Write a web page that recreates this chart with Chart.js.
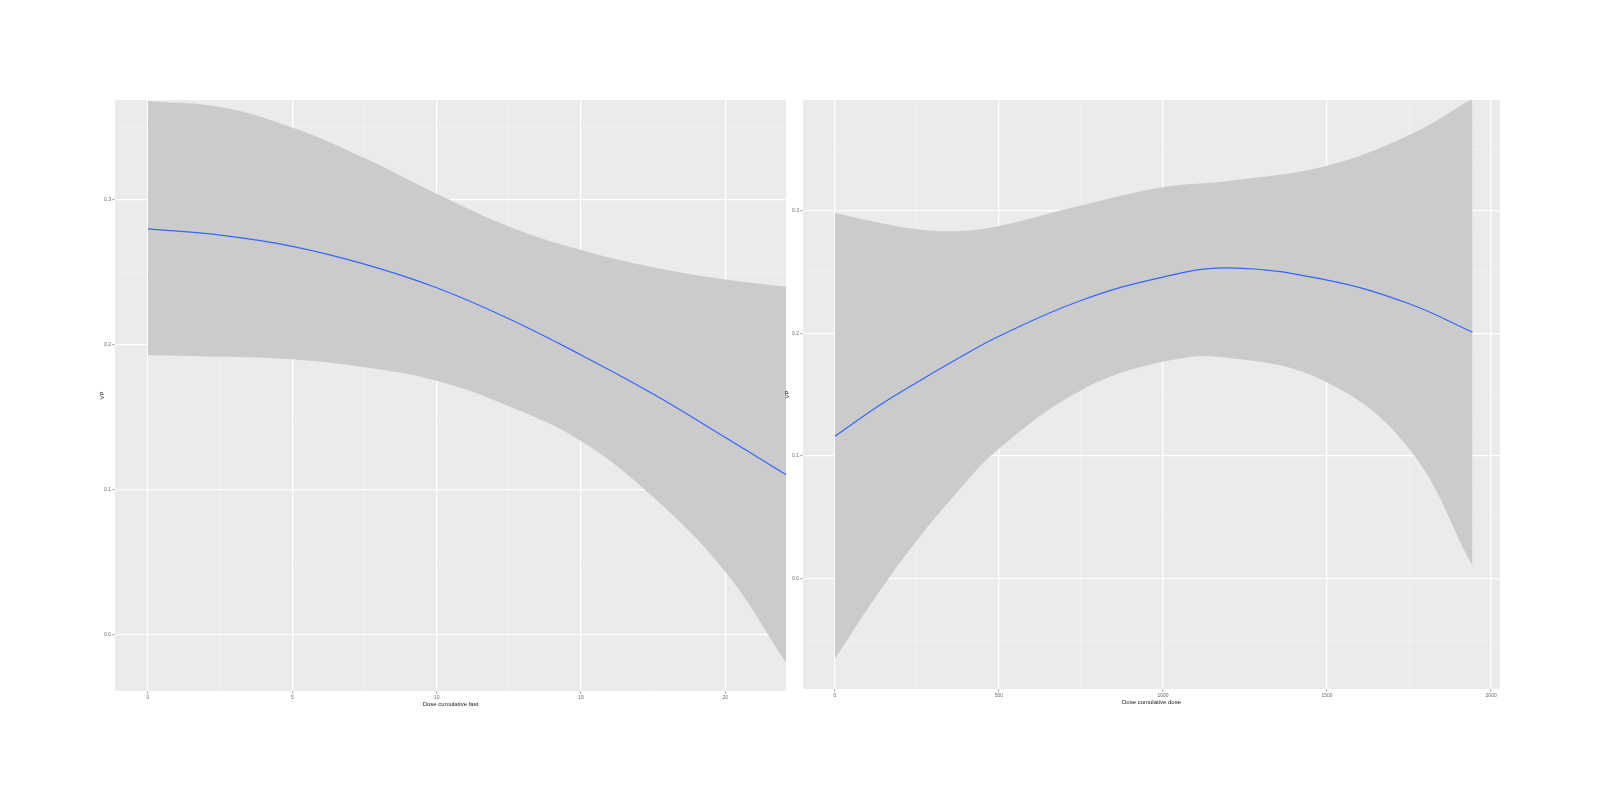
<!DOCTYPE html>
<html>
<head>
<meta charset="utf-8">
<script src="https://cdn.jsdelivr.net/npm/chart.js@4.4.0/dist/chart.umd.min.js"></script>
<style>
  body { margin: 0; background: #fff; width: 1600px; height: 804px; position: relative; overflow: hidden; }
  canvas { position: absolute; }
  #left { left: 90px; top: 90px; }
  #right { left: 770px; top: 90px; }
</style>
</head>
<body>
<canvas id="left" width="696" height="630"></canvas>
<canvas id="right" width="750" height="630"></canvas>
<script>
// left panel data
const leftX = [0, 2.5, 5, 7.5, 10, 12.5, 15, 17.5, 20, 22.1];
const leftFit = [0.280, 0.2757, 0.268, 0.2557, 0.2394, 0.218, 0.193, 0.166, 0.136, 0.1103];
const leftUpper = [0.3684, 0.3642, 0.350, 0.3289, 0.3042, 0.2817, 0.2654, 0.2535, 0.245, 0.240];
const leftLower = [0.1928, 0.1918, 0.190, 0.1845, 0.1752, 0.1576, 0.1336, 0.0948, 0.0433, -0.0194];
const leftXTicks = [0, 5, 10, 15, 20];
const leftYTicks = [0.0, 0.1, 0.2, 0.3];

// right panel data
const rightX = [0, 125, 250, 375, 500, 750, 1000, 1200, 1500, 1750, 1943];
const rightFit = [0.1161, 0.1394, 0.160, 0.1794, 0.1976, 0.2267, 0.2458, 0.2532, 0.2433, 0.2241, 0.2009];
const rightUpper = [0.298, 0.2907, 0.2848, 0.2832, 0.2873, 0.304, 0.3189, 0.324, 0.3364, 0.3614, 0.391];
const rightLower = [-0.0653, -0.0146, 0.0312, 0.0712, 0.106, 0.1535, 0.1768, 0.180, 0.160, 0.106, 0.0104];
const rightXTicks = [0, 500, 1000, 1500, 2000];
const rightYTicks = [0.0, 0.1, 0.2, 0.3];

const yTitle = 'VP';

// panel background like ggplot
const panelBg = {
    id: 'panelBg',
    beforeDraw(chart) {
        const a = chart.chartArea;
        const ctx = chart.ctx;
        ctx.save();
        ctx.fillStyle = '#EBEBEB';
        ctx.fillRect(a.left, a.top, a.right - a.left, a.bottom - a.top);
        ctx.restore();
    }
};

function withMinor(major, lo, hi){
    const step = major[1] - major[0];
    const all = [];
    const start = major[0] - step * Math.ceil((major[0] - lo) / step);
    for (let v = start - step / 2; v <= hi + 1e-9; v += step / 2) {
        if (v >= lo - 1e-9) all.push(+v.toFixed(6));
    }
    return all;
}

function isMajor(v, major){
    return major.some(m => Math.abs(m - v) < 1e-6);
}

function axis(major, lo, hi, size, fmt, title, isX){
    return {
        type: 'linear',
        min: lo,
        max: hi,
        afterBuildTicks: s => {
            s.ticks = withMinor(major, lo, hi).map(v => ({ value: v }));
        },
        afterFit: s => {
            if (isX) s.height = size; else s.width = size;
        },
        border: { display: false },
        grid: {
            color: c => isMajor(c.tick.value, major) ? '#FFFFFF' : '#F3F3F3',
            lineWidth: c => isMajor(c.tick.value, major) ? 1.3 : 0.6,
            tickColor: c => isMajor(c.tick.value, major) ? '#8A8A8A' : 'transparent',
            tickWidth: 0.7,
            tickLength: 3
        },
        ticks: {
            autoSkip: false,
            maxRotation: 0,
            padding: 1,
            color: '#6A6A6A',
            font: { family: 'Liberation Sans', size: 5 },
            callback: v => isMajor(v, major) ? fmt(v) : ''
        },
        title: {
            display: true,
            text: title,
            color: '#222',
            padding: isX ? { top: 1, bottom: 0 } : { top: 0, bottom: 1 },
            font: { family: 'Liberation Sans', size: 6 }
        }
    };
}

function drawPanel(id, xs, fit, upper, lower, xTicks, yTicks, xr, yr, yW, xH, pad, xTitle){
    new Chart(document.getElementById(id), {
        type: 'line',
        data: {
            datasets: [{
                data: xs.map((x, i) => ({ x: x, y: fit[i] })),
                borderColor: '#3366FF',
                borderWidth: 1.2,
                pointRadius: 0,
                tension: 0.4,
                fill: false
            }, {
                data: xs.map((x, i) => ({ x: x, y: upper[i] })),
                borderWidth: 0,
                borderColor: 'transparent',
                backgroundColor: '#CBCBCB',
                pointRadius: 0,
                tension: 0.4,
                fill: '+1'
            }, {
                data: xs.map((x, i) => ({ x: x, y: lower[i] })),
                borderWidth: 0,
                borderColor: 'transparent',
                pointRadius: 0,
                tension: 0.4,
                fill: false
            }]
        },
        options: {
            responsive: false,
            animation: false,
            devicePixelRatio: 1,
            layout: { padding: pad },
            plugins: { legend: { display: false }, tooltip: { enabled: false } },
            scales: {
                x: axis(xTicks, xr[0], xr[1], xH, v => String(v), xTitle, true),
                y: axis(yTicks, yr[0], yr[1], yW, v => v.toFixed(1), yTitle, false)
            }
        },
        plugins: [panelBg]
    });
}

drawPanel('left', leftX, leftFit, leftUpper, leftLower, leftXTicks, leftYTicks,
    [-1.14, 22.1], [-0.039, 0.369], 16, 17, { top: 10, right: 0, left: 9, bottom: 12 }, 'Dose cumulative fast');
drawPanel('right', rightX, rightFit, rightUpper, rightLower, rightXTicks, rightYTicks,
    [-97, 2027], [-0.0897, 0.390], 19, 17, { top: 10, right: 20, left: 14, bottom: 14 }, 'Dose cumulative dose');
</script>
</body>
</html>
